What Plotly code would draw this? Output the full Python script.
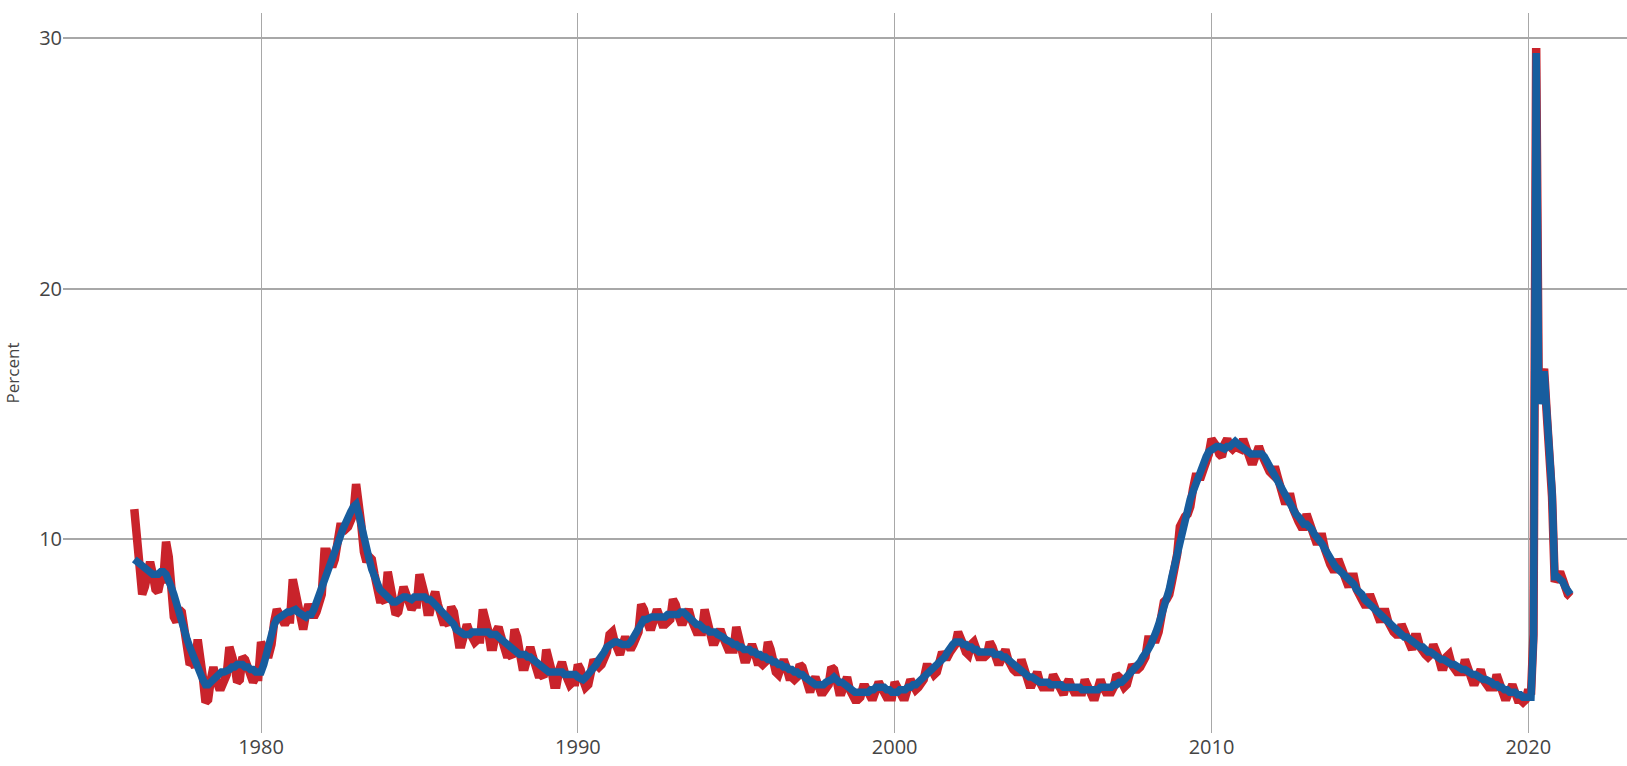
import pandas as pd
import plotly.graph_objects as go

# Seasonally adjusted unemployment rate (percent), monthly from Jan 1976
sa_1976_1979 = [
    9.2, 9.1, 9.0, 8.9, 8.8, 8.7, 8.6, 8.6, 8.6, 8.6, 8.7, 8.7,
    8.6, 8.4, 8.1, 7.8, 7.4, 7.0, 6.6, 6.3, 6.0, 5.7, 5.4, 5.2,
    4.9, 4.6, 4.4, 4.2, 4.2, 4.3, 4.4, 4.5, 4.6, 4.7, 4.7, 4.8,
    4.8, 4.9, 4.9, 5.0, 5.0, 5.0, 4.9, 4.9, 4.8, 4.8, 4.7, 4.7,
]
sa_1980s = [
    4.7, 5.0, 5.4, 5.9, 6.3, 6.6, 6.8, 6.9, 7.0, 7.0, 7.1, 7.1,
    7.2, 7.2, 7.1, 7.0, 6.9, 6.9, 7.0, 7.0, 7.2, 7.5, 7.8, 8.1,
    8.4, 8.8, 9.1, 9.4, 9.7, 9.9, 10.1, 10.4, 10.7, 10.9, 11.1, 11.3,
    11.4, 11.0, 10.5, 10.0, 9.6, 9.2, 8.8, 8.5, 8.2, 8.0, 7.9, 7.8,
    7.7, 7.6, 7.5, 7.5, 7.6, 7.6, 7.7, 7.7, 7.6, 7.6, 7.7, 7.7,
    7.7, 7.7, 7.7, 7.6, 7.6, 7.5, 7.4, 7.3, 7.2, 7.1, 7.0, 6.9,
    6.8, 6.6, 6.4, 6.3, 6.3, 6.2, 6.2, 6.2, 6.3, 6.3, 6.3, 6.3,
    6.3, 6.3, 6.3, 6.2, 6.2, 6.2, 6.1, 6.0, 5.9, 5.8, 5.7, 5.6,
    5.5, 5.5, 5.4, 5.4, 5.4, 5.3, 5.3, 5.2, 5.1, 5.0, 4.9, 4.8,
    4.7, 4.7, 4.7, 4.7, 4.7, 4.7, 4.7, 4.6, 4.6, 4.6, 4.6, 4.6,
]
sa_1990s = [
    4.5, 4.4, 4.4, 4.5, 4.6, 4.7, 4.9, 5.0, 5.2, 5.3, 5.5, 5.7,
    5.8, 5.9, 5.9, 5.9, 5.8, 5.8, 5.8, 5.8, 5.9, 6.1, 6.3, 6.5,
    6.7, 6.8, 6.8, 6.9, 6.9, 6.9, 6.9, 6.9, 6.9, 6.9, 7.0, 7.0,
    7.0, 7.0, 7.0, 7.1, 7.1, 7.0, 6.9, 6.8, 6.7, 6.6, 6.6, 6.5,
    6.4, 6.4, 6.3, 6.3, 6.3, 6.2, 6.1, 6.1, 6.0, 5.9, 5.9, 5.8,
    5.8, 5.7, 5.7, 5.6, 5.6, 5.6, 5.5, 5.5, 5.4, 5.4, 5.3, 5.3,
    5.2, 5.2, 5.1, 5.1, 5.0, 5.0, 4.9, 4.9, 4.8, 4.8, 4.7, 4.7,
    4.6, 4.6, 4.5, 4.4, 4.3, 4.3, 4.2, 4.2, 4.2, 4.2, 4.3, 4.4,
    4.4, 4.5, 4.4, 4.3, 4.3, 4.2, 4.1, 4.0, 4.0, 3.9, 3.9, 3.9,
    3.9, 3.9, 3.9, 4.0, 4.0, 4.1, 4.1, 4.1, 4.1, 4.0, 4.0, 3.9,
]
sa_2000s = [
    3.9, 3.9, 4.0, 4.0, 4.0, 4.1, 4.1, 4.2, 4.2, 4.3, 4.4, 4.5,
    4.6, 4.7, 4.8, 4.9, 5.0, 5.1, 5.2, 5.3, 5.5, 5.7, 5.8, 5.9,
    5.9, 5.9, 5.8, 5.8, 5.7, 5.7, 5.6, 5.6, 5.5, 5.5, 5.5, 5.5,
    5.5, 5.5, 5.4, 5.4, 5.4, 5.3, 5.3, 5.2, 5.1, 5.0, 4.9, 4.8,
    4.8, 4.7, 4.6, 4.5, 4.5, 4.4, 4.4, 4.3, 4.3, 4.3, 4.3, 4.2,
    4.2, 4.2, 4.2, 4.2, 4.1, 4.1, 4.1, 4.1, 4.1, 4.1, 4.1, 4.0,
    4.0, 4.0, 4.0, 4.0, 4.0, 4.0, 4.1, 4.1, 4.1, 4.1, 4.1, 4.2,
    4.2, 4.3, 4.3, 4.4, 4.5, 4.6, 4.7, 4.8, 5.0, 5.1, 5.3, 5.4,
    5.6, 5.8, 6.0, 6.3, 6.6, 6.9, 7.2, 7.6, 8.0, 8.5, 9.0, 9.5,
    10.0, 10.5, 10.9, 11.3, 11.6, 11.9, 12.2, 12.5, 12.7, 13.0, 13.3, 13.5,
]
sa_2010s = [
    13.6, 13.7, 13.7, 13.7, 13.6, 13.6, 13.7, 13.7, 13.8, 13.9, 13.8, 13.7,
    13.6, 13.5, 13.4, 13.4, 13.4, 13.4, 13.4, 13.4, 13.3, 13.1, 12.9, 12.7,
    12.5, 12.3, 12.1, 11.9, 11.7, 11.5, 11.4, 11.2, 11.0, 10.9, 10.7, 10.6,
    10.6, 10.5, 10.4, 10.2, 10.1, 9.9, 9.8, 9.6, 9.4, 9.2, 9.0, 8.9,
    8.8, 8.7, 8.6, 8.5, 8.4, 8.3, 8.2, 8.0, 7.9, 7.8, 7.6, 7.5,
    7.4, 7.3, 7.2, 7.1, 7.0, 6.9, 6.8, 6.7, 6.6, 6.5, 6.4, 6.3,
    6.2, 6.1, 6.1, 6.0, 5.9, 5.9, 5.8, 5.7, 5.7, 5.6, 5.5, 5.5,
    5.4, 5.4, 5.3, 5.2, 5.2, 5.1, 5.1, 5.0, 5.0, 4.9, 4.9, 4.8,
    4.8, 4.7, 4.7, 4.6, 4.6, 4.5, 4.5, 4.4, 4.4, 4.3, 4.3, 4.2,
    4.2, 4.1, 4.1, 4.0, 4.0, 3.9, 3.9, 3.9, 3.8, 3.8, 3.7, 3.7,
]
sa_2020s = [
    3.7, 3.7, 6.0, 29.4, 15.4, 16.0, 16.7, 15.1, 13.5, 11.9, 8.5, 8.5,
    8.4, 8.3, 8.1, 7.9, 7.8,
]

# Not seasonally adjusted unemployment rate (percent), monthly from Jan 1976
nsa_1976_1979 = [
    11.2, 10.2, 9.2, 7.8, 8.1, 8.9, 9.1, 8.6, 8.0, 7.9, 8.4, 8.4,
    9.9, 9.3, 8.2, 6.9, 6.7, 7.2, 7.1, 6.3, 5.4, 5.0, 5.1, 4.9,
    6.0, 5.4, 4.5, 3.5, 3.6, 4.4, 4.9, 4.4, 4.1, 4.1, 4.4, 4.6,
    5.7, 5.4, 5.0, 4.3, 4.4, 5.3, 5.2, 4.9, 4.4, 4.3, 4.5, 4.5,
]
nsa_1980s = [
    5.9, 5.6, 5.4, 5.4, 5.8, 6.7, 7.2, 7.0, 6.7, 6.6, 6.8, 6.8,
    8.4, 7.9, 7.2, 6.6, 6.4, 7.0, 7.4, 7.1, 6.9, 7.1, 7.5, 7.8,
    9.5, 9.5, 9.2, 8.9, 9.2, 10.0, 10.5, 10.5, 10.4, 10.5, 10.8, 11.0,
    12.2, 11.6, 10.6, 9.5, 9.1, 9.3, 9.2, 8.6, 7.9, 7.6, 7.6, 7.5,
    8.7, 8.2, 7.6, 7.0, 7.1, 7.7, 8.1, 7.8, 7.3, 7.2, 7.4, 7.4,
    8.6, 8.3, 7.8, 7.1, 7.1, 7.6, 7.9, 7.4, 6.9, 6.7, 6.7, 6.6,
    7.3, 7.1, 6.5, 5.8, 5.8, 6.3, 6.6, 6.3, 6.0, 5.9, 6.0, 6.0,
    7.2, 6.9, 6.4, 5.7, 5.7, 6.3, 6.5, 6.1, 5.6, 5.4, 5.4, 5.3,
    6.4, 6.1, 5.5, 4.9, 4.9, 5.4, 5.7, 5.3, 4.8, 4.6, 4.6, 4.5,
    5.6, 5.3, 4.8, 4.2, 4.2, 4.8, 5.1, 4.7, 4.3, 4.2, 4.3, 4.3,
]
nsa_1990s = [
    5.0, 4.8, 4.4, 4.1, 4.2, 4.7, 5.2, 5.0, 4.9, 5.0, 5.2, 5.5,
    6.2, 6.3, 5.9, 5.5, 5.4, 5.8, 6.1, 5.8, 5.6, 5.8, 6.0, 6.3,
    7.4, 7.2, 6.8, 6.5, 6.5, 6.9, 7.2, 6.9, 6.6, 6.6, 6.7, 6.8,
    7.6, 7.4, 7.0, 6.7, 6.7, 7.0, 7.2, 6.8, 6.4, 6.3, 6.3, 6.3,
    7.2, 6.8, 6.3, 5.9, 5.9, 6.2, 6.4, 6.1, 5.7, 5.6, 5.6, 5.6,
    6.5, 6.1, 5.7, 5.2, 5.2, 5.6, 5.8, 5.5, 5.1, 5.1, 5.0, 5.1,
    5.9, 5.6, 5.1, 4.7, 4.6, 5.0, 5.2, 4.9, 4.5, 4.5, 4.4, 4.5,
    5.0, 4.9, 4.5, 4.0, 3.9, 4.3, 4.5, 4.2, 3.9, 3.9, 4.0, 4.2,
    4.9, 4.8, 4.4, 3.9, 3.9, 4.4, 4.5, 4.0, 3.7, 3.6, 3.6, 3.7,
    4.1, 4.1, 3.9, 3.7, 3.7, 4.1, 4.3, 4.1, 3.8, 3.7, 3.7, 3.7,
]
nsa_2000s = [
    4.3, 4.1, 4.0, 3.7, 3.7, 4.2, 4.4, 4.2, 4.0, 4.1, 4.2, 4.4,
    4.9, 4.9, 4.8, 4.6, 4.7, 5.2, 5.5, 5.3, 5.3, 5.5, 5.6, 5.8,
    6.3, 6.1, 5.8, 5.5, 5.4, 5.8, 5.9, 5.6, 5.3, 5.3, 5.3, 5.4,
    5.9, 5.7, 5.4, 5.1, 5.1, 5.4, 5.6, 5.2, 4.9, 4.8, 4.7, 4.7,
    5.2, 4.9, 4.6, 4.2, 4.2, 4.5, 4.7, 4.3, 4.1, 4.1, 4.1, 4.1,
    4.6, 4.4, 4.2, 3.9, 3.8, 4.2, 4.4, 4.1, 3.9, 3.9, 3.9, 3.9,
    4.4, 4.2, 4.0, 3.7, 3.7, 4.1, 4.4, 4.1, 3.9, 3.9, 3.9, 4.1,
    4.6, 4.5, 4.3, 4.1, 4.2, 4.7, 5.0, 4.8, 4.8, 4.9, 5.1, 5.3,
    6.0, 6.0, 6.0, 6.0, 6.3, 7.0, 7.5, 7.6, 7.8, 8.3, 8.8, 9.4,
    10.5, 10.8, 10.9, 11.0, 11.3, 12.0, 12.5, 12.5, 12.5, 12.8, 13.1, 13.4,
]
nsa_2010s = [
    14.0, 13.9, 13.7, 13.4, 13.3, 13.8, 14.0, 13.7, 13.6, 13.7, 13.6, 13.6,
    14.0, 13.7, 13.4, 13.1, 13.1, 13.6, 13.7, 13.4, 13.1, 12.9, 12.7, 12.6,
    12.9, 12.5, 12.1, 11.6, 11.4, 11.7, 11.7, 11.2, 10.8, 10.7, 10.5, 10.5,
    11.0, 10.7, 10.4, 9.9, 9.8, 10.1, 10.1, 9.6, 9.2, 9.0, 8.8, 8.8,
    9.2, 8.9, 8.6, 8.2, 8.1, 8.5, 8.5, 8.0, 7.7, 7.6, 7.4, 7.4,
    7.8, 7.5, 7.2, 6.8, 6.7, 7.1, 7.1, 6.7, 6.4, 6.3, 6.2, 6.2,
    6.6, 6.3, 6.1, 5.7, 5.6, 6.1, 6.1, 5.7, 5.5, 5.4, 5.3, 5.4,
    5.8, 5.6, 5.3, 4.9, 4.9, 5.3, 5.4, 5.0, 4.8, 4.7, 4.7, 4.7,
    5.2, 4.9, 4.7, 4.3, 4.3, 4.7, 4.8, 4.4, 4.2, 4.1, 4.1, 4.1,
    4.6, 4.3, 4.1, 3.7, 3.7, 4.1, 4.2, 3.9, 3.6, 3.6, 3.5, 3.6,
]
nsa_2020s = [
    4.0, 3.8, 6.2, 29.6, 15.5, 16.3, 16.8, 15.0, 13.3, 11.7, 8.3, 8.6,
    8.7, 8.4, 8.0, 7.8, 7.7,
]

sa_rate = sa_1976_1979 + sa_1980s + sa_1990s + sa_2000s + sa_2010s + sa_2020s
nsa_rate = nsa_1976_1979 + nsa_1980s + nsa_1990s + nsa_2000s + nsa_2010s + nsa_2020s
months = pd.date_range("1976-01-01", periods=len(sa_rate), freq="MS")

x_range = ["1973-10-01", "2023-02-12"]
y_range = [2.27, 31.0]

fig = go.Figure()
fig.add_trace(go.Scatter(
    x=months, y=nsa_rate, mode="lines", name="Not seasonally adjusted",
    line=dict(color="#c9232b", width=8.5),
))
fig.add_trace(go.Scatter(
    x=months, y=sa_rate, mode="lines", name="Seasonally adjusted",
    line=dict(color="#175d9e", width=7.5),
))

fig.update_layout(
    width=1627, height=766,
    margin=dict(l=63, r=0, t=13, b=33),
    paper_bgcolor="white", plot_bgcolor="white",
    font=dict(family="Open Sans", color="#444"),
    showlegend=False,
    xaxis=dict(
        type="date", range=x_range, tick0="1980-01-01", dtick="M120",
        tickformat="%Y", showgrid=True, gridcolor="#a8a8a8", gridwidth=1,
        zeroline=False, showline=False, ticks="", tickfont=dict(size=20, color="#444"),
    ),
    yaxis=dict(
        range=y_range, tick0=0, dtick=10, showgrid=True, gridcolor="#a8a8a8",
        gridwidth=2, zeroline=False, showline=False, ticks="",
        tickfont=dict(size=20, color="#444"),
        title=dict(text="Percent", font=dict(size=17, color="#444")),
    ),
)

fig.write_html(
    "out.html",
    config={"displayModeBar": False},
    post_script="document.body.style.margin='0';",
)
